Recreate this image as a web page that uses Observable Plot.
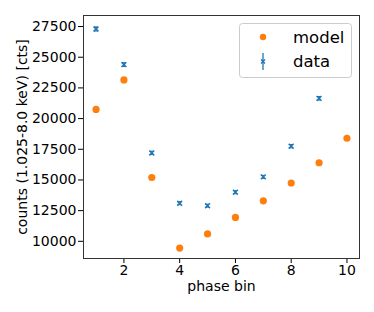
<!DOCTYPE html>
<html><head><meta charset="utf-8">
<script src="https://cdn.jsdelivr.net/npm/d3@7"></script>
<script src="https://cdn.jsdelivr.net/npm/@observablehq/plot@0.6"></script>
<style>body{margin:0;background:#fff;} svg{font-family:"DejaVu Sans";}</style>
</head><body><div id="chart"></div>
<script>
const modelBins = [1, 2, 3, 4, 5, 6, 7, 8, 9, 10];
const modelCounts = [20750, 23150, 15200, 9450, 10600, 11950, 13300, 14750, 16400, 18400];
const dataBins = [1, 2, 3, 4, 5, 6, 7, 8, 9];
const dataCounts = [27300, 24400, 17200, 13100, 12900, 14000, 15250, 17750, 21650];
const dataErr = [165, 156, 131, 114, 114, 118, 123, 133, 147];
const xTicks = [2, 4, 6, 8, 10];
const yTicks = [10000, 12500, 15000, 17500, 20000, 22500, 25000, 27500];
const seriesNames = ["model", "data"];
const seriesColors = ["#ff7f0e", "#1f77b4"];

const model = modelBins.map((b, i) => ({bin: b, counts: modelCounts[i]}));
const data = dataBins.map((b, i) => ({bin: b, counts: dataCounts[i], lo: dataCounts[i] - dataErr[i], hi: dataCounts[i] + dataErr[i]}));

const chart = Plot.plot({
  width: 374, height: 312,
  marginLeft: 83, marginRight: 15, marginTop: 15, marginBottom: 54,
  style: {fontFamily: "DejaVu Sans", background: "#fff", color: "#000"},
  x: {type: "linear", domain: [0.55, 10.45]},
  y: {type: "linear", domain: [8600, 28400]},
  marks: [
    Plot.axisX({ticks: xTicks, tickSize: 5, tickPadding: 2, fontSize: 14, label: "phase bin", labelAnchor: "center", labelArrow: "none", labelOffset: 32}),
    Plot.axisY({ticks: yTicks, tickSize: 5, tickPadding: 2, fontSize: 14, tickFormat: d => String(d), label: "counts (1.025-8.0 keV) [cts]", labelAnchor: "center", labelArrow: "none", labelOffset: 66}),
    Plot.dot(model, {x: "bin", y: "counts", r: 3.6, fill: seriesColors[0]}),
    Plot.ruleX(data, {x: "bin", y1: "lo", y2: "hi", stroke: seriesColors[1], strokeWidth: 1.3}),
    Plot.ruleY(data, {y: "lo", x1: "bin", x2: "bin", insetLeft: -2, insetRight: -2, stroke: seriesColors[1], strokeWidth: 1}),
    Plot.ruleY(data, {y: "hi", x1: "bin", x2: "bin", insetLeft: -2, insetRight: -2, stroke: seriesColors[1], strokeWidth: 1}),
    Plot.dot(data, {x: "bin", y: "counts", symbol: "times", r: 2.3, stroke: seriesColors[1], strokeWidth: 1.5}),
    Plot.frame({stroke: "#333", strokeWidth: 1})
  ]
});
document.getElementById("chart").appendChild(chart);

// legend
const svg = d3.select(chart);
const g = svg.append("g").attr("font-family", "DejaVu Sans").attr("text-anchor", "start");
g.append("rect").attr("x", 239.5).attr("y", 23.5).attr("width", 112).attr("height", 54).attr("rx", 3)
  .attr("fill", "white").attr("fill-opacity", 0.8).attr("stroke", "#ccc");
g.append("circle").attr("cx", 263).attr("cy", 37).attr("r", 3.2).attr("fill", seriesColors[0]);
g.append("line").attr("x1", 263).attr("x2", 263).attr("y1", 53).attr("y2", 70).attr("stroke", seriesColors[1]).attr("stroke-width", 1.3);
g.append("path").attr("d", "M-2,-2L2,2M-2,2L2,-2").attr("transform", "translate(263,61.5)")
  .attr("stroke", seriesColors[1]).attr("stroke-width", 1.4).attr("fill", "none");
g.append("text").attr("x", 293).attr("y", 43).attr("font-size", 16.5).attr("fill", "#000").attr("text-anchor", "start").text(seriesNames[0]);
g.append("text").attr("x", 293).attr("y", 67).attr("font-size", 16.5).attr("fill", "#000").attr("text-anchor", "start").text(seriesNames[1]);
</script>
</body></html>
